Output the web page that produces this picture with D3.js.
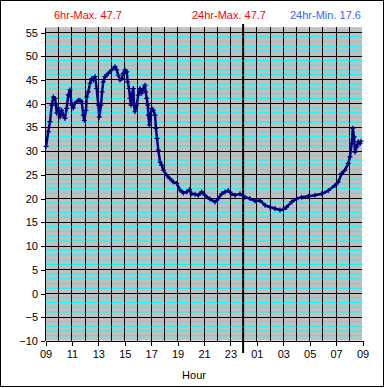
<!DOCTYPE html>
<html>
<head>
<meta charset="utf-8">
<script src="https://cdn.jsdelivr.net/npm/d3@7"></script>
<style>
  body { margin: 0; background: #fff; }
  svg text { font-family: "Liberation Sans", Arial, sans-serif; font-size: 11px; }
</style>
</head>
<body>
<div id="chart"></div>
<script>
// hours after 09:00 and temperature readings
const hours = [0.08, 0.25, 0.38, 0.51, 0.63, 0.76, 0.83, 0.89, 1.01, 1.14, 1.26, 1.39, 1.51, 1.64, 1.76, 1.89,
  2.02, 2.14, 2.27, 2.52, 2.65, 2.78, 2.90, 2.98, 3.10, 3.16, 3.28, 3.41, 3.54, 3.66, 3.79, 3.91,
  4.04, 4.11, 4.24, 4.32, 4.41, 4.54, 4.67, 4.79, 5.05, 5.30, 5.43, 5.55, 5.68, 5.81, 5.93,
  6.06, 6.19, 6.26, 6.36, 6.44, 6.51, 6.56, 6.69, 6.74, 6.81, 6.94, 7.06, 7.19, 7.32, 7.44,
  7.57, 7.62, 7.70, 7.78, 7.82, 7.90, 7.97, 8.08, 8.20, 8.33, 8.40, 8.48, 8.58, 8.71, 8.84,
  8.96, 9.21, 9.46, 9.71, 9.97, 10.22, 10.47, 10.73, 10.93, 11.11, 11.36, 11.61, 11.86, 12.11,
  12.49, 12.87, 13.12, 13.38, 13.63, 13.88, 14.14, 14.39, 14.76, 15.14, 15.52, 15.90, 16.28,
  16.66, 17.03, 17.41, 17.79, 18.04, 18.29, 18.68, 19.06, 19.44, 19.94, 20.44, 20.95, 21.45,
  21.96, 22.21, 22.46, 22.71, 22.96, 23.09, 23.22, 23.30, 23.40, 23.47, 23.60, 23.72, 23.85, 23.92];
const temps = [30.9, 34.0, 36.1, 39.6, 41.3, 41.0, 39.6, 37.9, 39.0, 37.1, 38.5, 37.5, 36.8, 38.9, 41.7, 42.8,
  39.6, 39.0, 40.0, 40.6, 40.6, 40.3, 37.5, 36.4, 38.5, 41.3, 42.4, 44.2, 45.2, 44.9, 45.6, 43.1,
  39.6, 37.1, 39.6, 42.4, 44.5, 45.6, 45.9, 46.3, 47.0, 47.7, 47.0, 45.9, 44.9, 45.2, 46.3,
  47.0, 46.6, 44.5, 43.1, 41.0, 39.6, 41.7, 43.1, 39.6, 38.2, 39.6, 41.7, 43.1, 42.1, 43.1,
  43.8, 42.4, 41.0, 39.6, 37.5, 35.4, 37.5, 38.9, 38.5, 37.5, 34.7, 32.6, 30.1, 27.6, 26.9,
  25.9, 24.8, 24.1, 23.4, 23.1, 21.7, 21.1, 21.3, 21.8, 20.9, 20.8, 20.6, 21.3, 20.6,
  19.8, 19.2, 19.9, 20.9, 21.3, 21.6, 20.9, 20.6, 20.9, 20.2, 19.9, 19.4, 19.5,
  18.5, 18.1, 17.8, 17.5, 17.6, 18.1, 19.2, 19.9, 20.2, 20.4, 20.6, 20.9, 21.6,
  22.7, 23.4, 25.2, 25.9, 27.3, 28.7, 31.5, 34.7, 32.9, 29.7, 30.8, 31.9, 31.5, 32.0];

const yTicks = [-10, -5, 0, 5, 10, 15, 20, 25, 30, 35, 40, 45, 50, 55];
const xTicks = [0, 2, 4, 6, 8, 10, 12, 14, 16, 18, 20, 22, 24];
const xTickLabels = ["09", "11", "13", "15", "17", "19", "21", "23", "01", "03", "05", "07", "09"];
const midnight = 15;
const headLabels = ["6hr-Max. 47.7", "24hr-Max. 47.7", "24hr-Min. 17.6"];
const headColors = ["#ff0000", "#ff0000", "#3366ff"];

const width = 385, height = 388;

const x = d3.scaleLinear().domain([0, 24]).range([45, 362]);
const y = d3.scaleLinear().domain([-10, 55]).range([340.5, 32]);

const svg = d3.select("#chart").append("svg")
    .attr("width", width)
    .attr("height", height);

// outer frame
svg.append("rect")
    .attr("x", 0.5).attr("y", 0.5)
    .attr("width", 383).attr("height", 386)
    .attr("fill", "#fff").attr("stroke", "#000");

// plot background
svg.append("rect")
    .attr("x", x(0)).attr("y", y(56))
    .attr("width", x(24) - x(0)).attr("height", y(-10) - y(56))
    .attr("fill", "#c0c0c0");

// minor cyan gridlines every degree
const minor = d3.range(-9, 56).filter(v => v % 5 !== 0);
svg.append("g").selectAll("line").data(minor).join("line")
    .attr("x1", x(0)).attr("x2", x(24))
    .attr("y1", d => y(d)).attr("y2", d => y(d))
    .attr("stroke", "#00ffff").attr("stroke-width", 1);

// black hour gridlines
svg.append("g").attr("shape-rendering", "crispEdges")
  .selectAll("line").data(d3.range(1, 24)).join("line")
    .attr("x1", d => Math.round(x(d)) + 0.5).attr("x2", d => Math.round(x(d)) + 0.5)
    .attr("y1", y(56)).attr("y2", y(-10))
    .attr("stroke", "#000");

svg.append("g").attr("shape-rendering", "crispEdges")
  .selectAll("line").data(yTicks.slice(1)).join("line")
    .attr("x1", x(0)).attr("x2", x(24))
    .attr("y1", d => Math.round(y(d)) + 0.5).attr("y2", d => Math.round(y(d)) + 0.5)
    .attr("stroke", "#000");

// axes
const yAxis = d3.axisLeft(y).tickValues(yTicks).tickSize(4).tickPadding(3);
const yg = svg.append("g").attr("transform", `translate(${x(0)},0.5)`).call(yAxis);
yg.select(".domain").attr("d", `M0,${y(56)}V${y(-10)}`);

const xAxis = d3.axisBottom(x).tickValues(xTicks).tickSize(5).tickPadding(4)
    .tickFormat((d, i) => xTickLabels[i]);
const xg = svg.append("g").attr("transform", `translate(0.5,${Math.round(y(-10))})`).call(xAxis);

svg.selectAll(".tick text").attr("fill", "#000").style("font-size", "11px")
    .style("font-family", "'Liberation Sans', Arial, sans-serif");
svg.selectAll(".domain, .tick line").attr("stroke", "#000").attr("shape-rendering", "crispEdges");

// midnight marker
svg.append("line")
    .attr("x1", x(midnight)).attr("x2", x(midnight))
    .attr("y1", 24).attr("y2", 353)
    .attr("stroke", "#000").attr("stroke-width", 2);

// data series
const pts = hours.map((h, i) => [h, temps[i]]);
svg.append("path")
    .datum(pts)
    .attr("fill", "none")
    .attr("stroke", "#000080")
    .attr("stroke-width", 2.5)
    .attr("stroke-linejoin", "round")
    .attr("d", d3.line().x(d => x(d[0])).y(d => y(d[1])));

svg.append("g").selectAll("path").data(pts).join("path")
    .attr("d", d => `M${x(d[0]) - 2.5},${y(d[1])}h5M${x(d[0])},${y(d[1]) - 2.5}v5`)
    .attr("stroke", "#000080").attr("stroke-width", 1.2);

// header labels
svg.append("g").selectAll("text").data(headLabels).join("text")
    .attr("x", (d, i) => [54, 192, 290][i])
    .attr("y", 19)
    .attr("fill", (d, i) => headColors[i])
    .text(d => d);

svg.append("text")
    .attr("x", 194).attr("y", 379)
    .attr("text-anchor", "middle")
    .text("Hour");
</script>
</body>
</html>
